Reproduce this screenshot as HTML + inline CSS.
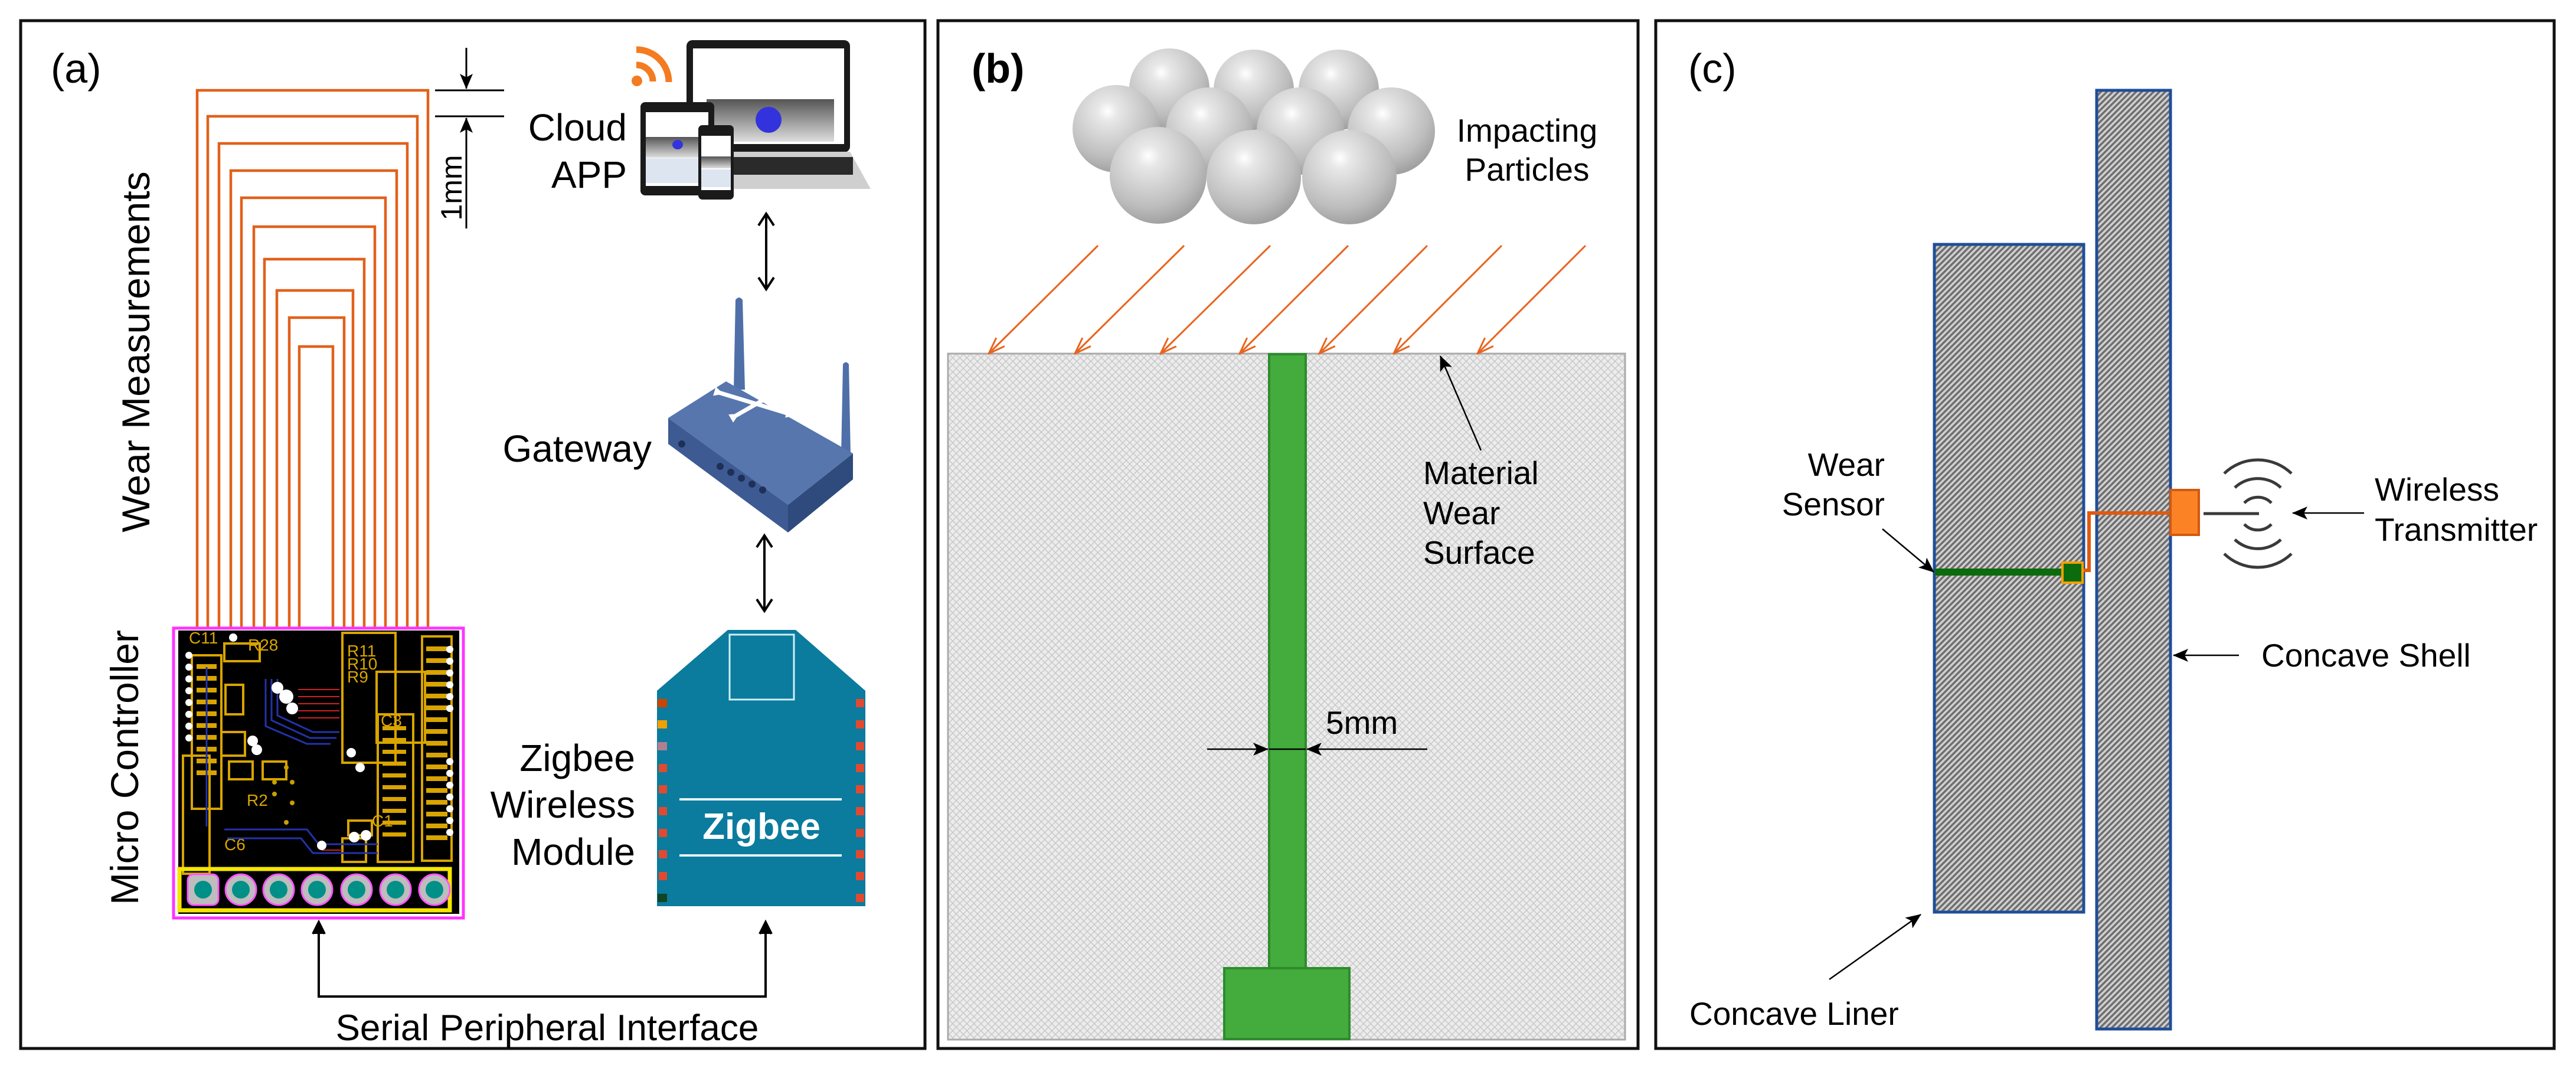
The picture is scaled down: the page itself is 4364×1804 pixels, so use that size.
<!DOCTYPE html>
<html><head><meta charset="utf-8"><style>
html,body{margin:0;padding:0;background:#fff}
svg{display:block}
text{font-family:"Liberation Sans",Arial,sans-serif}
</style></head><body>
<svg width="4364" height="1804" viewBox="0 0 4364 1804" xmlns="http://www.w3.org/2000/svg">
<defs>
<pattern id="xh" width="12" height="12" patternUnits="userSpaceOnUse">
<rect width="12" height="12" fill="#ececec"/>
<path d="M0 0L12 12M12 0L0 12" stroke="#c8c8c8" stroke-width="1.5"/>
</pattern>
<pattern id="dh" width="7" height="7" patternUnits="userSpaceOnUse" patternTransform="rotate(45)">
<rect width="7" height="7" fill="#d0d0d0"/>
<rect width="3.5" height="7" fill="#6e6e6e"/>
</pattern>
<radialGradient id="sph" cx="0.4" cy="0.3" r="0.75">
<stop offset="0" stop-color="#ffffff"/>
<stop offset="0.15" stop-color="#e8e8e8"/>
<stop offset="0.7" stop-color="#bdbdbd"/>
<stop offset="1" stop-color="#9a9a9a"/>
</radialGradient>
<linearGradient id="scr" x1="0" y1="0" x2="0" y2="1"><stop offset="0" stop-color="#555"/><stop offset="1" stop-color="#ddd"/></linearGradient>
<marker id="abL" markerWidth="26" markerHeight="22" refX="25" refY="11" orient="auto" markerUnits="userSpaceOnUse" viewBox="0 0 26 22"><path d="M0 0L26 11L0 22L6 11z" fill="#000"/></marker>
<marker id="ao" markerWidth="30" markerHeight="24" refX="28" refY="12" orient="auto" markerUnits="userSpaceOnUse" viewBox="0 0 30 24"><path d="M0 2L28 12L0 22" fill="none" stroke="#e8641e" stroke-width="3"/></marker>
<marker id="aw" markerWidth="16" markerHeight="16" refX="8" refY="8" orient="auto" markerUnits="userSpaceOnUse" viewBox="0 0 16 16"><path d="M0 0L16 8L0 16z" fill="#fff"/></marker>
</defs>

<rect x="35" y="35" width="1532" height="1741" fill="none" stroke="#111" stroke-width="5"/>
<rect x="1589" y="35" width="1186" height="1741" fill="none" stroke="#111" stroke-width="5"/>
<rect x="2805" y="35" width="1522" height="1741" fill="none" stroke="#111" stroke-width="5"/>

<!-- ===== Panel (a) ===== -->
<text x="86" y="140" font-size="70">(a)</text>
<g fill="none" stroke="#e2601a" stroke-width="4.5">
<path d="M334 1064V153H725V1064"/>
<path d="M352 1064V197H707V1064"/>
<path d="M371 1064V243H690V1064"/>
<path d="M391 1064V289H672V1064"/>
<path d="M409 1064V335H653V1064"/>
<path d="M430 1064V384H635V1064"/>
<path d="M448 1064V439H617V1064"/>
<path d="M469 1064V492H598V1064"/>
<path d="M490 1064V538H583V1064"/>
<path d="M507 1064V587H564V1064"/>
</g>
<g stroke="#000" stroke-width="3">
<line x1="737" y1="153" x2="854" y2="153"/>
<line x1="737" y1="197" x2="854" y2="197"/>
<line x1="790" y1="81" x2="790" y2="150" marker-end="url(#abL)"/>
<line x1="790" y1="387" x2="790" y2="200" marker-end="url(#abL)"/>
</g>
<text transform="translate(782,318) rotate(-90)" font-size="50" text-anchor="middle">1mm</text>
<text transform="translate(253,596) rotate(-90)" font-size="66" text-anchor="middle">Wear Measurements</text>
<text transform="translate(234,1300) rotate(-90)" font-size="66" text-anchor="middle">Micro Controller</text>

<!-- PCB -->
<rect x="294" y="1064" width="491" height="491" fill="#fff" stroke="#ff33ff" stroke-width="5"/>
<rect x="302" y="1068" width="476" height="480" fill="#000"/>
<g fill="none" stroke="#d9a400" stroke-width="4">
<rect x="325" y="1110" width="50" height="260"/>
<rect x="380" y="1090" width="60" height="30"/>
<rect x="580" y="1072" width="90" height="220"/>
<rect x="638" y="1138" width="82" height="120"/>
<rect x="640" y="1210" width="60" height="250"/>
<rect x="715" y="1078" width="50" height="380"/>
<rect x="310" y="1280" width="45" height="200"/>
<rect x="375" y="1240" width="40" height="40"/>
<rect x="445" y="1290" width="40" height="30"/>
<rect x="580" y="1420" width="40" height="40"/>
<rect x="382" y="1160" width="30" height="50"/>
<rect x="388" y="1290" width="40" height="30"/>
<rect x="590" y="1390" width="40" height="25"/>
</g>
<g fill="#d9a400">
<rect x="333" y="1125" width="34" height="8"/><rect x="333" y="1145" width="34" height="8"/><rect x="333" y="1165" width="34" height="8"/><rect x="333" y="1185" width="34" height="8"/><rect x="333" y="1205" width="34" height="8"/><rect x="333" y="1225" width="34" height="8"/><rect x="333" y="1245" width="34" height="8"/><rect x="333" y="1265" width="34" height="8"/><rect x="333" y="1285" width="34" height="8"/><rect x="333" y="1305" width="34" height="8"/>
<rect x="722" y="1095" width="36" height="8"/><rect x="722" y="1115" width="36" height="8"/><rect x="722" y="1135" width="36" height="8"/><rect x="722" y="1155" width="36" height="8"/><rect x="722" y="1175" width="36" height="8"/><rect x="722" y="1195" width="36" height="8"/><rect x="722" y="1215" width="36" height="8"/><rect x="722" y="1235" width="36" height="8"/><rect x="722" y="1255" width="36" height="8"/><rect x="722" y="1275" width="36" height="8"/><rect x="722" y="1295" width="36" height="8"/><rect x="722" y="1315" width="36" height="8"/><rect x="722" y="1335" width="36" height="8"/><rect x="722" y="1355" width="36" height="8"/><rect x="722" y="1375" width="36" height="8"/><rect x="722" y="1395" width="36" height="8"/><rect x="722" y="1415" width="36" height="8"/>
<rect x="648" y="1230" width="40" height="7"/><rect x="648" y="1250" width="40" height="7"/><rect x="648" y="1270" width="40" height="7"/><rect x="648" y="1290" width="40" height="7"/><rect x="648" y="1310" width="40" height="7"/><rect x="648" y="1330" width="40" height="7"/><rect x="648" y="1350" width="40" height="7"/><rect x="648" y="1370" width="40" height="7"/><rect x="648" y="1390" width="40" height="7"/><rect x="648" y="1410" width="40" height="7"/>
</g>
<g font-size="28" fill="#d9a400"><text x="420" y="1102">R28</text><text x="588" y="1112">R11</text><text x="588" y="1134">R10</text><text x="588" y="1156">R9</text><text x="645" y="1230">C3</text><text x="380" y="1440">C6</text><text x="320" y="1090">C11</text><text x="418" y="1365">R2</text><text x="630" y="1400">C1</text></g>
<g stroke="#2233aa" stroke-width="3" fill="none"><path d="M450 1150V1230L520 1260H560"/><path d="M460 1150V1220L525 1250H570"/><path d="M470 1150V1212L530 1240H575"/><path d="M380 1405H520L540 1430H640"/><path d="M385 1420H510L530 1445H640"/><path d="M350 1130V1400"/></g>
<g stroke="#cc2222" stroke-width="2"><line x1="505" y1="1168" x2="575" y2="1168"/><line x1="505" y1="1180" x2="575" y2="1180"/><line x1="505" y1="1192" x2="575" y2="1192"/><line x1="505" y1="1204" x2="575" y2="1204"/><line x1="505" y1="1216" x2="575" y2="1216"/><line x1="545" y1="1440" x2="580" y2="1440"/></g>
<g fill="#fff"><circle cx="470" cy="1165" r="10"/><circle cx="485" cy="1180" r="12"/><circle cx="495" cy="1200" r="10"/><circle cx="428" cy="1255" r="9"/><circle cx="435" cy="1270" r="9"/><circle cx="600" cy="1418" r="9"/><circle cx="620" cy="1415" r="9"/><circle cx="545" cy="1432" r="8"/><circle cx="595" cy="1275" r="8"/><circle cx="610" cy="1300" r="8"/><circle cx="395" cy="1080" r="7"/><circle cx="320" cy="1110" r="6"/><circle cx="320" cy="1130" r="6"/><circle cx="320" cy="1150" r="6"/><circle cx="320" cy="1170" r="6"/><circle cx="320" cy="1190" r="6"/><circle cx="320" cy="1210" r="6"/><circle cx="320" cy="1230" r="6"/><circle cx="320" cy="1250" r="6"/><circle cx="762" cy="1100" r="6"/><circle cx="762" cy="1120" r="6"/><circle cx="762" cy="1140" r="6"/><circle cx="762" cy="1160" r="6"/><circle cx="762" cy="1180" r="6"/><circle cx="762" cy="1200" r="6"/><circle cx="762" cy="1290" r="6"/><circle cx="762" cy="1310" r="6"/><circle cx="762" cy="1330" r="6"/><circle cx="762" cy="1350" r="6"/><circle cx="762" cy="1370" r="6"/><circle cx="762" cy="1390" r="6"/><circle cx="762" cy="1410" r="6"/></g>
<g fill="#c8a000"><circle cx="485" cy="1300" r="4"/><circle cx="465" cy="1325" r="4"/><circle cx="495" cy="1325" r="4"/><circle cx="465" cy="1345" r="4"/><circle cx="495" cy="1360" r="4"/><circle cx="485" cy="1393" r="4"/></g>
<rect x="304" y="1472" width="458" height="70" fill="none" stroke="#f5e600" stroke-width="7"/>
<g stroke="#ff55ff" stroke-width="3" fill="#bdbdbd">
<rect x="318" y="1481" width="52" height="52" rx="10"/>
<circle cx="408" cy="1507" r="26"/><circle cx="472" cy="1507" r="26"/><circle cx="537" cy="1507" r="26"/><circle cx="604" cy="1507" r="26"/><circle cx="670" cy="1507" r="26"/><circle cx="736" cy="1507" r="26"/>
</g>
<g fill="#009088"><circle cx="344" cy="1507" r="15"/><circle cx="408" cy="1507" r="15"/><circle cx="472" cy="1507" r="15"/><circle cx="537" cy="1507" r="15"/><circle cx="604" cy="1507" r="15"/><circle cx="670" cy="1507" r="15"/><circle cx="736" cy="1507" r="15"/></g>

<!-- Cloud APP -->
<text x="1062" y="238" font-size="64" text-anchor="end">Cloud</text>
<text x="1062" y="318" font-size="64" text-anchor="end">APP</text>
<g>
<circle cx="1079" cy="137" r="9" fill="#f47b20"/>
<path d="M1078 110A28 28 0 0 1 1106 138" fill="none" stroke="#f47b20" stroke-width="11"/>
<path d="M1078 84A55 55 0 0 1 1133 139" fill="none" stroke="#f47b20" stroke-width="11"/>
<rect x="1163" y="68" width="277" height="190" rx="10" fill="#1a1a1a"/>
<rect x="1174" y="82" width="256" height="162" fill="#fff"/>
<rect x="1197" y="168" width="216" height="72" fill="url(#scr)"/>
<ellipse cx="1302" cy="203" rx="22" ry="22" fill="#3333dd"/>
<path d="M1222 257H1440L1475 320H1200z" fill="#cfcfcf"/>
<rect x="1240" y="266" width="205" height="30" fill="#2a2a2a"/>
<rect x="1085" y="173" width="125" height="158" rx="8" fill="#1a1a1a"/>
<rect x="1094" y="190" width="106" height="125" fill="#fff"/>
<rect x="1094" y="232" width="106" height="35" fill="url(#scr)"/>
<rect x="1094" y="268" width="106" height="42" fill="#dde6f0"/>
<ellipse cx="1148" cy="245" rx="9" ry="8" fill="#3333dd"/>
<rect x="1183" y="212" width="60" height="126" rx="7" fill="#1a1a1a"/>
<rect x="1188" y="230" width="50" height="92" fill="#fff"/>
<rect x="1188" y="265" width="50" height="20" fill="url(#scr)"/>
<rect x="1188" y="287" width="50" height="30" fill="#dde6f0"/>
</g>
<g stroke="#000" stroke-width="4" fill="none">
<line x1="1298" y1="365" x2="1298" y2="487"/>
<path d="M1285 382L1298 362L1311 382M1285 470L1298 490L1311 470"/>
<line x1="1295" y1="910" x2="1295" y2="1032"/>
<path d="M1282 927L1295 907L1308 927M1282 1015L1295 1035L1308 1015"/>
</g>

<!-- Gateway -->
<text x="1104" y="782" font-size="64" text-anchor="end">Gateway</text>
<g>
<path d="M1243 660L1246 508Q1252 500 1258 508L1262 660z" fill="#4f6fa8"/>
<path d="M1425 770L1428 617Q1433 610 1438 617L1441 770z" fill="#4f6fa8"/>
<path d="M1132 708L1335 855L1335 902L1132 752z" fill="#3d5b92"/>
<path d="M1335 855L1445 768L1445 812L1335 902z" fill="#2f4a7c"/>
<path d="M1132 708L1230 646L1445 768L1335 855z" fill="#5676ad"/>
<g stroke="#fff" stroke-width="7">
<line x1="1245" y1="705" x2="1320" y2="662" marker-end="url(#aw)" marker-start="url(#aw)"/>
<line x1="1218" y1="665" x2="1340" y2="702" marker-end="url(#aw)" marker-start="url(#aw)"/>
</g>
<circle cx="1155" cy="752" r="6" fill="#1e3058"/>
<g fill="#1e3058"><circle cx="1220" cy="790" r="6"/><circle cx="1238" cy="800" r="6"/><circle cx="1256" cy="810" r="6"/><circle cx="1274" cy="820" r="6"/><circle cx="1292" cy="830" r="6"/></g>
</g>

<!-- Zigbee module -->
<text x="1076" y="1306" font-size="64" text-anchor="end">Zigbee</text>
<text x="1076" y="1385" font-size="64" text-anchor="end">Wireless</text>
<text x="1076" y="1465" font-size="64" text-anchor="end">Module</text>
<path d="M1113 1170L1233 1067H1348L1466 1170V1535H1113z" fill="#0b7b9e"/>
<rect x="1236" y="1075" width="109" height="110" fill="none" stroke="#cfeef7" stroke-width="3"/>
<line x1="1151" y1="1354" x2="1426" y2="1354" stroke="#e8f6fa" stroke-width="4"/>
<line x1="1151" y1="1449" x2="1426" y2="1449" stroke="#e8f6fa" stroke-width="4"/>
<text x="1290" y="1421" font-size="62" font-weight="bold" fill="#fff" text-anchor="middle">Zigbee</text>
<g fill="#e04a30">
<rect x="1450" y="1184" width="14" height="14"/><rect x="1450" y="1220" width="14" height="14"/><rect x="1450" y="1257" width="14" height="14"/><rect x="1450" y="1294" width="14" height="14"/><rect x="1450" y="1330" width="14" height="14"/><rect x="1450" y="1367" width="14" height="14"/><rect x="1450" y="1404" width="14" height="14"/><rect x="1450" y="1440" width="14" height="14"/><rect x="1450" y="1477" width="14" height="14"/><rect x="1450" y="1514" width="14" height="14"/>
<rect x="1116" y="1294" width="14" height="14"/><rect x="1116" y="1330" width="14" height="14"/><rect x="1116" y="1367" width="14" height="14"/><rect x="1116" y="1404" width="14" height="14"/><rect x="1116" y="1440" width="14" height="14"/><rect x="1116" y="1477" width="14" height="14"/>
</g>
<rect x="1114" y="1184" width="16" height="14" fill="#cc4400"/><rect x="1114" y="1220" width="16" height="14" fill="#f0a000"/><rect x="1114" y="1257" width="16" height="14" fill="#b08090"/><rect x="1114" y="1514" width="16" height="14" fill="#114422"/>

<!-- SPI -->
<g stroke="#000" stroke-width="4" fill="none">
<path d="M540 1568V1688H1297V1568"/>
<path d="M530 1582L540 1562L550 1582M1287 1582L1297 1562L1307 1582" fill="#000"/>
</g>
<text x="927" y="1762" font-size="62" text-anchor="middle">Serial Peripheral Interface</text>

<!-- ===== Panel (b) ===== -->
<text x="1646" y="140" font-size="70" font-weight="bold">(b)</text>
<g>
<circle cx="1981" cy="150" r="68" fill="url(#sph)"/>
<circle cx="2124" cy="152" r="68" fill="url(#sph)"/>
<circle cx="2268" cy="152" r="68" fill="url(#sph)"/>
<circle cx="1891" cy="218" r="74" fill="url(#sph)"/>
<circle cx="2049" cy="222" r="74" fill="url(#sph)"/>
<circle cx="2203" cy="222" r="74" fill="url(#sph)"/>
<circle cx="2357" cy="222" r="74" fill="url(#sph)"/>
<circle cx="1962" cy="297" r="82" fill="url(#sph)"/>
<circle cx="2124" cy="300" r="80" fill="url(#sph)"/>
<circle cx="2286" cy="300" r="80" fill="url(#sph)"/>
</g>
<text x="2587" y="240" font-size="55" text-anchor="middle">Impacting</text>
<text x="2587" y="306" font-size="55" text-anchor="middle">Particles</text>
<rect x="1606" y="599" width="1147" height="1162" fill="url(#xh)" stroke="#aaa" stroke-width="3"/>
<g stroke="#e8641e" stroke-width="3" fill="none">
<line x1="1860" y1="416" x2="1675" y2="599" marker-end="url(#ao)"/>
<line x1="2006" y1="416" x2="1821" y2="599" marker-end="url(#ao)"/>
<line x1="2152" y1="416" x2="1966" y2="599" marker-end="url(#ao)"/>
<line x1="2284" y1="416" x2="2100" y2="599" marker-end="url(#ao)"/>
<line x1="2418" y1="416" x2="2235" y2="599" marker-end="url(#ao)"/>
<line x1="2544" y1="416" x2="2361" y2="599" marker-end="url(#ao)"/>
<line x1="2686" y1="416" x2="2503" y2="599" marker-end="url(#ao)"/>
</g>
<rect x="2150" y="600" width="62" height="1040" fill="#43ac3c" stroke="#2e8b2e" stroke-width="4"/>
<rect x="2074" y="1640" width="212" height="120" fill="#43ac3c" stroke="#2e8b2e" stroke-width="4"/>
<g stroke="#000" stroke-width="2.5">
<line x1="2045" y1="1269" x2="2148" y2="1269" marker-end="url(#abL)"/>
<line x1="2418" y1="1269" x2="2214" y2="1269" marker-end="url(#abL)"/>
<line x1="2150" y1="1269" x2="2212" y2="1269"/>
<line x1="2509" y1="763" x2="2440" y2="603" marker-end="url(#abL)"/>
</g>
<text x="2246" y="1243" font-size="55">5mm</text>
<text x="2411" y="820" font-size="55">Material</text>
<text x="2411" y="888" font-size="55">Wear</text>
<text x="2411" y="955" font-size="55">Surface</text>

<!-- ===== Panel (c) ===== -->
<text x="2860" y="140" font-size="70">(c)</text>
<rect x="3277" y="414" width="253" height="1131" fill="url(#dh)" stroke="#1f4e99" stroke-width="5"/>
<rect x="3552" y="153" width="125" height="1590" fill="url(#dh)" stroke="#1f4e99" stroke-width="5"/>
<line x1="3278" y1="969" x2="3496" y2="969" stroke="#0c6b0c" stroke-width="12"/>
<path d="M3528 966H3539V869H3676" fill="none" stroke="#e05a10" stroke-width="6"/>
<rect x="3494" y="953" width="34" height="34" fill="#0c6b0c" stroke="#f5a000" stroke-width="4"/>
<rect x="3677" y="830" width="48" height="76" fill="#fb8225" stroke="#d05a10" stroke-width="4"/>
<line x1="3733" y1="870" x2="3827" y2="870" stroke="#3a3a3a" stroke-width="5"/>
<g fill="none" stroke="#3a3a3a" stroke-width="5">
<path d="M3802 852A32 32 0 0 1 3848 852"/>
<path d="M3802 888A32 32 0 0 0 3848 888"/>
<path d="M3786 826A57 57 0 0 1 3864 826"/>
<path d="M3786 914A57 57 0 0 0 3864 914"/>
<path d="M3768 802A82 82 0 0 1 3882 802"/>
<path d="M3768 938A82 82 0 0 0 3882 938"/>
</g>
<g stroke="#000" stroke-width="2.5">
<line x1="4005" y1="869" x2="3884" y2="869" marker-end="url(#abL)"/>
<line x1="3793" y1="1110" x2="3682" y2="1110" marker-end="url(#abL)"/>
<line x1="3189" y1="896" x2="3276" y2="969" marker-end="url(#abL)"/>
<line x1="3099" y1="1659" x2="3254" y2="1549" marker-end="url(#abL)"/>
</g>
<text x="4023" y="848" font-size="55">Wireless</text>
<text x="4023" y="916" font-size="55">Transmitter</text>
<text x="3831" y="1129" font-size="55">Concave Shell</text>
<text x="3193" y="806" font-size="55" text-anchor="end">Wear</text>
<text x="3193" y="873" font-size="55" text-anchor="end">Sensor</text>
<text x="2862" y="1736" font-size="55">Concave Liner</text>
</svg>
</body></html>
